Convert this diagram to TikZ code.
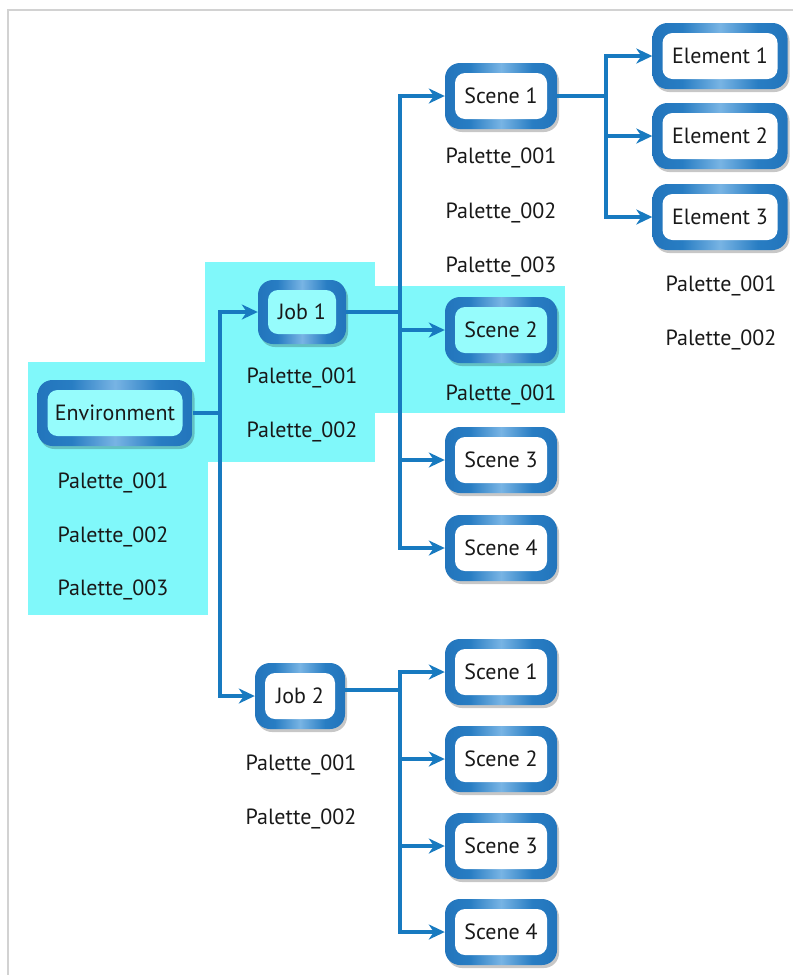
\documentclass[tikz,border=0pt]{standalone}
\usepackage{fontspec}
\setmainfont{PT Sans}
\usetikzlibrary{arrows.meta,shadows}
\definecolor{bdark}{RGB}{22,98,172}
\definecolor{bmid}{RGB}{40,125,195}
\definecolor{blight}{RGB}{120,180,228}
\definecolor{lineblue}{RGB}{24,122,192}
\definecolor{hcyan}{RGB}{128,248,250}
\definecolor{icyan}{RGB}{150,252,252}
\definecolor{framegray}{RGB}{210,210,210}
\pgfdeclarehorizontalshading{boxsh}{100bp}{color(0bp)=(bdark); color(36bp)=(bmid); color(50bp)=(blight); color(64bp)=(bmid); color(100bp)=(bdark)}
\begin{document}
\begin{tikzpicture}[x=1pt,y=-1pt,
  txt/.style={font=\fontsize{22}{26}\selectfont, text=black!90},
  boxbase/.style={txt, rounded corners=15pt, shading=boxsh, minimum height=66pt, inner sep=0pt,
     drop shadow={shadow xshift=2pt, shadow yshift=-3pt, opacity=0.22, fill=black}},
  inner/.style={path picture={\fill[#1, rounded corners=10pt]
     ([shift={(10pt,10pt)}]path picture bounding box.south west) rectangle
     ([shift={(-10pt,-10pt)}]path picture bounding box.north east);}},
  wbox/.style={boxbase, inner=white},
  cbox/.style={boxbase, inner=icyan},
  pal/.style={txt},
  conn/.style={draw=lineblue, line width=4pt, line join=miter},
  arr/.style={conn, -{Stealth[length=16pt, width=15pt, inset=5pt]}}]
\useasboundingbox (0,0) rectangle (793,975);
% frame
\draw[framegray, line width=2pt] (7.5,975) -- (7.5,9.5) -- (793,9.5);
% highlight regions
\fill[hcyan] (28,362) rectangle (208,615);
\fill[hcyan] (205,262) rectangle (375,462);
\fill[hcyan] (375,286) rectangle (565,413);
% boxes
\node[cbox, minimum width=155pt] (env) at (115,413) {Environment};
\node[cbox, minimum width=88pt, minimum height=64pt] (job1) at (302,312) {Job 1};
\node[wbox, minimum width=90pt] (job2) at (300,696) {Job 2};
\node[wbox, minimum width=112pt] (s1) at (501,96) {Scene 1};
\node[cbox, minimum width=112pt] (s2) at (501,330) {Scene 2};
\node[wbox, minimum width=112pt] (s3) at (501,460) {Scene 3};
\node[wbox, minimum width=112pt] (s4) at (501,548) {Scene 4};
\node[wbox, minimum width=112pt] (t1) at (501,672) {Scene 1};
\node[wbox, minimum width=112pt] (t2) at (501,759) {Scene 2};
\node[wbox, minimum width=112pt] (t3) at (501,846) {Scene 3};
\node[wbox, minimum width=112pt] (t4) at (501,932) {Scene 4};
\node[wbox, minimum width=135pt] (e1) at (720,56) {Element 1};
\node[wbox, minimum width=135pt] (e2) at (720,136) {Element 2};
\node[wbox, minimum width=135pt] (e3) at (720,217) {Element 3};
% palettes
\node[pal] (envp1) at (113,483) {Palette\_001};
\node[pal] (envp2) at (113,537) {Palette\_002};
\node[pal] (envp3) at (113,590) {Palette\_003};
\node[pal] (j1p1) at (302,378) {Palette\_001};
\node[pal] (j1p2) at (302,432) {Palette\_002};
\node[pal] (j2p1) at (301,765) {Palette\_001};
\node[pal] (j2p2) at (301,819) {Palette\_002};
\node[pal] (s1p1) at (501,158) {Palette\_001};
\node[pal] (s1p2) at (501,213) {Palette\_002};
\node[pal] (s1p3) at (501,267) {Palette\_003};
\node[pal] (s2p1) at (501,395) {Palette\_001};
\node[pal] (e3p1) at (721,286) {Palette\_001};
\node[pal] (e3p2) at (721,340) {Palette\_002};
% connectors
\coordinate (c1) at (220,413);
\coordinate (c2) at (400,312);
\coordinate (c3) at (606,96);
\coordinate (c4) at (400,690);
\draw[conn] (env.east) -- (c1);
\draw[arr] (c1) |- (job1.west);
\draw[arr] (c1) |- (job2.west);
\draw[conn] (job1.east) -- (c2);
\draw[arr] (c2) |- (s1.west);
\draw[arr] (c2) |- (s2.west);
\draw[arr] (c2) |- (s3.west);
\draw[arr] (c2) |- (s4.west);
\draw[conn] (s1.east) -- (c3);
\draw[arr] (c3) |- (e1.west);
\draw[arr] (c3) |- (e2.west);
\draw[arr] (c3) |- (e3.west);
\draw[conn] (job2.east |- c4) -- (c4);
\draw[arr] (c4) |- (t1.west);
\draw[arr] (c4) |- (t2.west);
\draw[arr] (c4) |- (t3.west);
\draw[arr] (c4) |- (t4.west);
\end{tikzpicture}
\end{document}
